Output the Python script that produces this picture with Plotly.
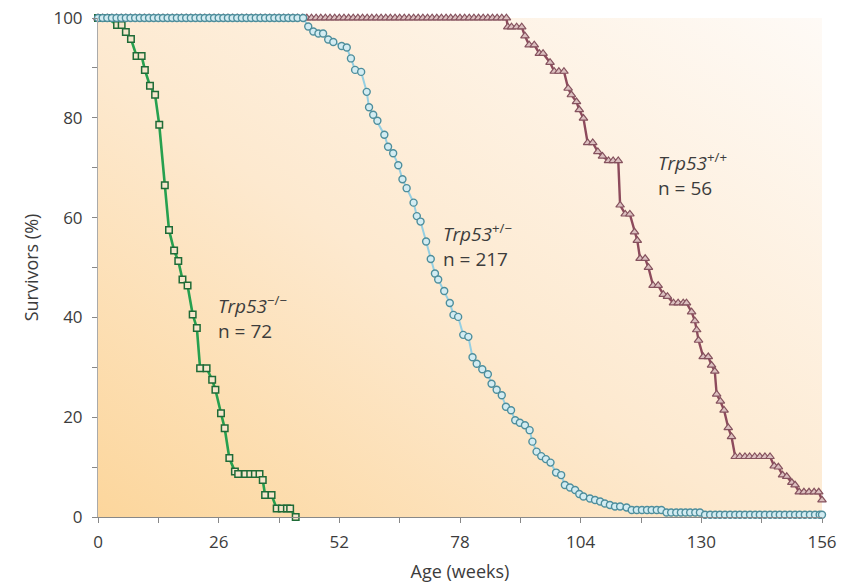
import base64
import plotly.graph_objects as go

# ---------------- data ----------------
# Trp53 -/-  (n = 72)
null_weeks = [0, 2, 4.1, 5.1, 6.0, 7.1, 8.3, 9.4, 10.1, 11.2, 12.3, 13.2, 14.4, 15.3, 16.4,
              17.3, 18.2, 19.3, 20.4, 21.3, 22.0, 23.4, 24.6, 25.3, 26.5, 27.3, 28.3, 29.5,
              30.2, 31.7, 32.8, 33.8, 34.8, 35.5, 36.0, 37.4, 38.5, 39.6, 40.7, 41.4, 42.6]
null_surv = [100, 100, 98.6, 98.6, 97.2, 95.8, 92.4, 92.4, 89.6, 86.4, 84.6, 78.6, 66.5, 57.5, 53.4,
             51.3, 47.6, 46.4, 40.6, 37.9, 29.8, 29.8, 27.5, 25.5, 20.8, 17.8, 11.8, 9.1,
             8.6, 8.6, 8.6, 8.6, 8.6, 7.4, 4.4, 4.4, 1.7, 1.7, 1.7, 1.7, 0]

# Trp53 +/-  (n = 217)
het_weeks = [0, 1, 2, 3, 4, 5, 6, 7, 8, 9, 10, 11, 12, 13, 14, 15, 16, 17, 18, 19, 20, 21, 22,
             23, 24, 25, 26, 27, 28, 29, 30, 31, 32, 33, 34, 35, 36, 37, 38, 39, 40, 41, 42, 43,
             44.2, 45.3, 46.4, 47.5, 48.5, 49.6, 50.7, 52.5, 53.6, 54.5, 55.4, 56.7, 57.9, 58.4,
             59.3, 60.2, 61.7, 62.5, 63.6, 64.7, 65.6, 66.5, 68.0, 68.7, 69.5, 70.7, 71.7, 72.6,
             73.3, 74.6, 75.8, 76.6, 77.6, 78.7, 79.8, 80.7, 81.6, 82.8, 84.0, 84.8, 85.9, 87.0,
             87.9, 89.0, 89.9, 90.9, 92.0, 93.0, 93.6, 94.5, 95.5, 96.5, 97.5, 98.7, 99.8, 100.6,
             101.7, 102.8, 103.7, 104.6, 106.0, 107.1, 108.2, 109.2, 110.3, 111.4, 112.5, 113.9,
             115.0, 116.1, 117.2, 118.3, 119.3, 120.4, 121.4,
             122.5, 123.5, 124.6, 125.6, 126.6, 127.6, 128.7, 129.7,
             130.8, 131.9, 133.0, 134.0, 135.1, 136.2, 137.3, 138.3, 139.4, 140.5, 141.6, 142.6,
             143.7, 144.8, 145.9, 146.9, 148.0, 149.1, 150.2, 151.2, 152.3, 153.4, 154.5, 155.5, 156]
het_surv = [100, 100, 100, 100, 100, 100, 100, 100, 100, 100, 100, 100, 100, 100, 100, 100, 100,
            100, 100, 100, 100, 100, 100, 100, 100, 100, 100, 100, 100, 100, 100, 100, 100, 100,
            100, 100, 100, 100, 100, 100, 100, 100, 100, 100,
            100, 98.3, 97.3, 96.9, 96.9, 95.7, 95.2, 94.4, 94.1, 91.9, 89.6, 89.2, 85.2, 82.1,
            80.6, 79.4, 76.6, 74.2, 72.9, 70.5, 67.7, 65.9, 63.0, 60.3, 59.2, 55.2, 51.7, 48.8,
            47.6, 45.3, 42.9, 40.5, 40.1, 36.5, 36.1, 32.0, 30.7, 29.6, 28.6, 26.7, 25.5, 24.4,
            22.1, 21.4, 19.4, 18.9, 18.4, 17.4, 15.1, 13.1, 12.2, 11.6, 10.9, 8.9, 8.4, 6.4,
            5.9, 5.4, 4.6, 4.1, 3.7, 3.4, 3.1, 2.7, 2.4, 2.1, 2.1, 1.9,
            1.4, 1.4, 1.4, 1.4, 1.4, 1.4, 1.4,
            0.9, 0.9, 0.9, 0.9, 0.9, 0.9, 0.9, 0.9,
            0.46, 0.46, 0.46, 0.46, 0.46, 0.46, 0.46, 0.46, 0.46, 0.46, 0.46, 0.46,
            0.46, 0.46, 0.46, 0.46, 0.46, 0.46, 0.46, 0.46, 0.46, 0.46, 0.46, 0.46, 0.46]

# Trp53 +/+  (n = 56)
wt_weeks = [0, 1, 2, 3, 4, 5, 6, 7, 8, 9, 10, 11, 12, 13, 14, 15, 16, 17, 18, 19, 20, 21, 22,
            23, 24, 25, 26, 27, 28, 29, 30, 31, 32, 33, 34, 35, 36, 37, 38, 39, 40, 41, 42, 43,
            44, 45, 46, 47, 48, 49, 50, 51, 52, 53, 54, 55, 56, 57, 58, 59, 60, 61, 62, 63, 64,
            65, 66, 67, 68, 69, 70, 71, 72, 73, 74, 75, 76, 77, 78, 79, 80, 81, 82, 83, 84, 85,
            86, 87, 88.0,
            88.3, 89.1, 90.2, 91.3, 92.0, 92.9, 94.0, 95.1, 95.9, 97.4, 98.3, 99.3, 100.4,
            101.3, 102.0, 103.1, 103.7, 104.6, 105.5, 106.6, 107.7, 108.7, 110.0, 111.0, 112.1,
            112.5, 113.6, 114.6, 115.6, 116.2, 116.8, 117.9, 118.6, 119.6, 120.7, 121.8, 122.7,
            124.0, 125.0, 126.1, 126.8, 127.9, 128.6, 129.0, 129.4, 130.4, 131.5, 132.2, 132.9,
            133.3, 134.1, 134.9, 135.8, 136.5, 137.3, 138.3, 139.4, 140.4, 141.5, 142.6, 143.7,
            144.8, 145.7, 146.6, 147.5, 148.4, 149.5, 150.2, 151.1, 152.1, 153.2, 154.3, 155.3, 156]
wt_surv = [100, 100, 100, 100, 100, 100, 100, 100, 100, 100, 100, 100, 100, 100, 100, 100, 100,
           100, 100, 100, 100, 100, 100, 100, 100, 100, 100, 100, 100, 100, 100, 100, 100, 100,
           100, 100, 100, 100, 100, 100, 100, 100, 100, 100, 100, 100, 100, 100, 100, 100, 100,
           100, 100, 100, 100, 100, 100, 100, 100, 100, 100, 100, 100, 100, 100, 100, 100, 100,
           100, 100, 100, 100, 100, 100, 100, 100, 100, 100, 100, 100, 100, 100, 100, 100, 100,
           100, 100, 100, 100,
           98.2, 98.2, 98.2, 98.2, 96.4, 94.6, 94.6, 92.9, 92.9, 91.1, 89.3, 89.3, 89.3,
           85.9, 84.6, 83.2, 81.6, 79.9, 75.0, 75.0, 73.2, 72.3, 71.4, 71.4, 71.4,
           62.5, 60.7, 60.7, 57.1, 55.4, 51.8, 51.8, 50.0, 46.4, 46.4, 44.6, 44.2,
           42.9, 42.9, 42.9, 42.9, 41.1, 39.3, 37.5, 35.4, 32.1, 32.1, 30.4, 29.2,
           24.6, 23.2, 21.4, 17.9, 16.1, 12.1, 12.1, 12.1, 12.1, 12.1, 12.1, 12.1,
           12.1, 10.2, 10.0, 8.4, 8.1, 6.9, 6.4, 5.0, 5.0, 5.0, 5.0, 5.0, 3.4]

x_tick_vals = [0, 26, 52, 78, 104, 130, 156]
y_tick_vals = [0, 20, 40, 60, 80, 100]

labels = [
    ("<i>Trp53</i><sup>−/−</sup><br>n = 72", 25.4, 40.0),
    ("<i>Trp53</i><sup>+/−</sup><br>n = 217", 73.8, 54.5),
    ("<i>Trp53</i><sup>+/+</sup><br>n = 56", 120.2, 68.7),
]

FONT = "Open Sans, Noto Sans, sans-serif"
TXT = "#3c3c3c"

# ---------------- figure ----------------
fig = go.Figure()

fig.add_trace(go.Scatter(
    x=null_weeks, y=null_surv, mode="lines+markers", cliponaxis=False,
    line=dict(color="#27a04f", width=2.6),
    marker=dict(symbol="square", size=6.5, color="#f6e6cc",
                line=dict(color="#1f6b37", width=1.5)),
    showlegend=False))

fig.add_trace(go.Scatter(
    x=wt_weeks, y=wt_surv, mode="lines+markers", cliponaxis=False,
    line=dict(color="#8d4a5c", width=2.4),
    marker=dict(symbol="triangle-up", size=7.5, color="#dcc0c0",
                line=dict(color="#85525e", width=1.2)),
    showlegend=False))

fig.add_trace(go.Scatter(
    x=het_weeks, y=het_surv, mode="lines+markers", cliponaxis=False,
    line=dict(color="#95cfe2", width=2.0),
    marker=dict(symbol="circle", size=7, color="#d3ecf2",
                line=dict(color="#4e8e9c", width=1.4)),
    showlegend=False))

svg = ('<svg xmlns="http://www.w3.org/2000/svg" width="724" height="499" viewBox="0 0 724 499" '
       'preserveAspectRatio="none"><defs><linearGradient id="g" x1="0" y1="1" x2="1" y2="0">'
       '<stop offset="0" stop-color="#fcd69c"/><stop offset="0.45" stop-color="#fde9cf"/>'
       '<stop offset="1" stop-color="#fefaf6"/></linearGradient></defs>'
       '<rect width="724" height="499" fill="url(#g)"/></svg>')
src = "data:image/svg+xml;base64," + base64.b64encode(svg.encode()).decode()

fig.add_layout_image(dict(source=src, xref="paper", yref="paper", x=0, y=1,
                          sizex=1, sizey=1, sizing="stretch", layer="below",
                          xanchor="left", yanchor="top"))

for text, xv, yv in labels:
    fig.add_annotation(x=xv, y=yv, text=text, showarrow=False, xanchor="left",
                       yanchor="middle", align="left",
                       font=dict(family=FONT, size=19, color=TXT))

fig.update_layout(
    width=843, height=587,
    margin=dict(l=98, r=21, t=18, b=70, autoexpand=False),
    paper_bgcolor="white", plot_bgcolor="rgba(0,0,0,0)",
    font=dict(family=FONT, color=TXT),
)
fig.update_xaxes(
    range=[0, 156], tickvals=x_tick_vals, ticktext=[str(v) for v in x_tick_vals],
    automargin=False, ticklabelstandoff=5,
    ticks="outside", ticklen=5, tickcolor="#888", showline=True, linecolor="#888",
    linewidth=1, showgrid=False, zeroline=False,
    minor=dict(dtick=13, tick0=0, ticks="outside", ticklen=5, tickcolor="#888", showgrid=False),
    tickfont=dict(family=FONT, size=17, color=TXT),
    title=dict(text="Age (weeks)", font=dict(family=FONT, size=18, color=TXT), standoff=12),
)
fig.update_yaxes(
    range=[0, 100], tickvals=y_tick_vals, ticktext=[str(v) for v in y_tick_vals],
    automargin=False,
    ticks="outside", ticklen=5, tickcolor="#888", showline=True, linecolor="#aaa",
    linewidth=1, showgrid=False, zeroline=False, ticklabelstandoff=6,
    minor=dict(dtick=10, tick0=0, ticks="outside", ticklen=5, tickcolor="#888", showgrid=False),
    tickfont=dict(family=FONT, size=17, color=TXT),
    title=dict(text="Survivors (%)", font=dict(family=FONT, size=18, color=TXT), standoff=10),
)

fig.write_html("out.html", config={"displayModeBar": False},
               post_script="document.body.style.margin='0';document.body.style.overflow='hidden';")
